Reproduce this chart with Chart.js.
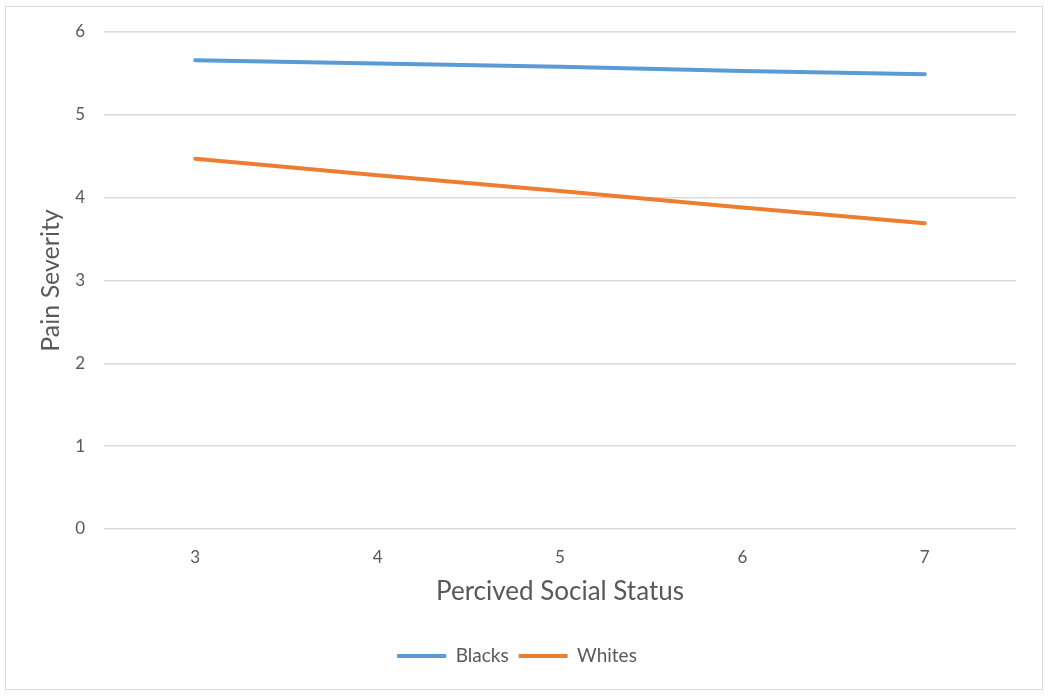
<!DOCTYPE html>
<html>
<head>
<meta charset="utf-8">
<script src="https://cdn.jsdelivr.net/npm/chart.js@4"></script>
<style>
  html, body { margin: 0; padding: 0; background: #fff; }
  #wrap { position: relative; width: 1050px; height: 697px; }
  #frame {
    position: absolute; left: 5px; top: 6px; width: 1036px; height: 682px;
    border: 1px solid #d9d9d9; pointer-events: none;
  }
  canvas { position: absolute; left: 0; top: 0; }
</style>
</head>
<body>
<div id="wrap">
  <canvas id="painChart" width="1050" height="697"></canvas>
  <div id="frame"></div>
</div>
<script>
const statusLabels = ['3', '4', '5', '6', '7'];
const blacks = [5.66, 5.62, 5.58, 5.53, 5.49];
const whites = [4.47, 4.27, 4.08, 3.88, 3.69];
const yTicks = [0, 1, 2, 3, 4, 5, 6];

const FONT = 'Lato, "Open Sans", sans-serif';
const GREY = '#595959';

const ctx = document.getElementById('painChart');

new Chart(ctx, {
    type: 'line',
    data: {
        labels: statusLabels,
        datasets: [
            {
                label: 'Blacks',
                data: blacks,
                borderColor: '#5b9bd5',
                backgroundColor: '#5b9bd5',
                borderWidth: 4,
                borderCapStyle: 'round',
                pointRadius: 0,
                tension: 0
            },
            {
                label: 'Whites',
                data: whites,
                borderColor: '#ed7d31',
                backgroundColor: '#ed7d31',
                borderWidth: 4,
                borderCapStyle: 'round',
                pointRadius: 0,
                tension: 0
            }
        ]
    },
    options: {
        responsive: false,
        animation: false,
        layout: {
            // left/right kept symmetric-ish so the legend centres on the canvas
            padding: { top: 32, right: 34, bottom: 21.5, left: 18 }
        },
        plugins: {
            legend: {
                position: 'bottom',
                labels: {
                    usePointStyle: true,
                    pointStyle: 'line',
                    pointStyleWidth: 49,
                    padding: 10,
                    color: GREY,
                    font: { family: FONT, size: 19 }
                }
            },
            tooltip: { enabled: false }
        },
        scales: {
            x: {
                offset: true,
                grid: { display: false, drawTicks: false },
                border: { display: false },
                ticks: {
                    color: GREY,
                    padding: 18,
                    font: { family: FONT, size: 17 }
                },
                title: {
                    display: true,
                    text: 'Percived Social Status',
                    color: GREY,
                    padding: { top: 4, bottom: 29 },
                    font: { family: FONT, size: 26 }
                },
                afterFit(scale) { scale.height = 107.5; }
            },
            y: {
                min: 0,
                max: 6,
                afterBuildTicks(scale) {
                    scale.ticks = yTicks.map(v => ({ value: v }));
                },
                grid: { color: '#d9d9d9', lineWidth: 1.5, drawTicks: false },
                border: { display: false },
                ticks: {
                    color: GREY,
                    padding: 19,
                    font: { family: FONT, size: 17 }
                },
                title: {
                    display: true,
                    text: 'Pain Severity',
                    color: GREY,
                    padding: { top: 18, bottom: 0 },
                    font: { family: FONT, size: 25 }
                },
                afterFit(scale) { scale.width = 86; }
            }
        }
    }
});
</script>
</body>
</html>
